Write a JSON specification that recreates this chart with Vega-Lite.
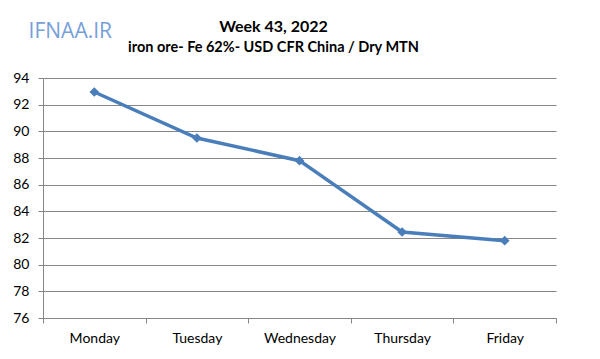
{
  "$schema": "https://vega.github.io/schema/vega-lite/v6.json",
  "autosize": {"type": "none"},
  "width": 513,
  "height": 240,
  "padding": {"left": 43, "top": 78, "right": 44, "bottom": 41},
  "background": "white",
  "title": {
    "text": "Week 43, 2022",
    "subtitle": "iron ore- Fe 62%- USD CFR China / Dry MTN",
    "anchor": "middle",
    "dx": -26,
    "offset": -33,
    "font": "Lato",
    "fontSize": 16,
    "fontWeight": "bold",
    "color": "#000000",
    "subtitleFont": "Lato",
    "subtitleFontSize": 14.5,
    "subtitleFontWeight": "bold",
    "subtitleColor": "#000000",
    "subtitlePadding": 6
  },
  "config": {"view": {"stroke": null}},
  "datasets": {
    "prices": [
      {"day": "Monday", "price": 92.95},
      {"day": "Tuesday", "price": 89.5},
      {"day": "Wednesday", "price": 87.8},
      {"day": "Thursday", "price": 82.45},
      {"day": "Friday", "price": 81.8}
    ],
    "logo": [{"day": "Monday", "price": 97.45, "label": "IFNAA.IR"}]
  },
  "encoding": {
    "x": {"field": "day", "type": "nominal", "sort": null,
      "scale": {"paddingInner": 0, "paddingOuter": 0, "type": "band"},
      "axis": {"title": null, "labelAngle": 0, "labelFont": "Lato", "labelFontSize": 14,
        "labelColor": "#000000", "domainColor": "#868686", "tickColor": "#868686",
        "tickBand": "extent", "tickSize": 5, "labelPadding": 8, "grid": false}},
    "y": {"field": "price", "type": "quantitative",
      "scale": {"domain": [76, 94], "nice": false, "zero": false},
      "axis": {"title": null, "values": [76,78,80,82,84,86,88,90,92,94], "labelOverlap": false,
        "labelFont": "Lato", "labelFontSize": 14, "labelColor": "#000000",
        "domainColor": "#868686", "tickColor": "#868686", "tickSize": 5,
        "gridColor": "#868686", "gridOpacity": 1, "labelPadding": 9}}
  },
  "layer": [
    {
      "data": {"name": "prices"},
      "mark": {"type": "line", "color": "#4A7EBB", "strokeWidth": 3.5,
        "point": {"shape": "diamond", "size": 95, "filled": true, "color": "#4A7EBB"}}
    },
    {
      "data": {"name": "logo"},
      "mark": {"type": "text", "font": "Open Sans", "fontSize": 21, "color": "#5E8FD3",
        "dx": -24, "baseline": "middle", "align": "center", "opacity": 0.85},
      "encoding": {
        "text": {"field": "label"}
      }
    }
  ]
}
